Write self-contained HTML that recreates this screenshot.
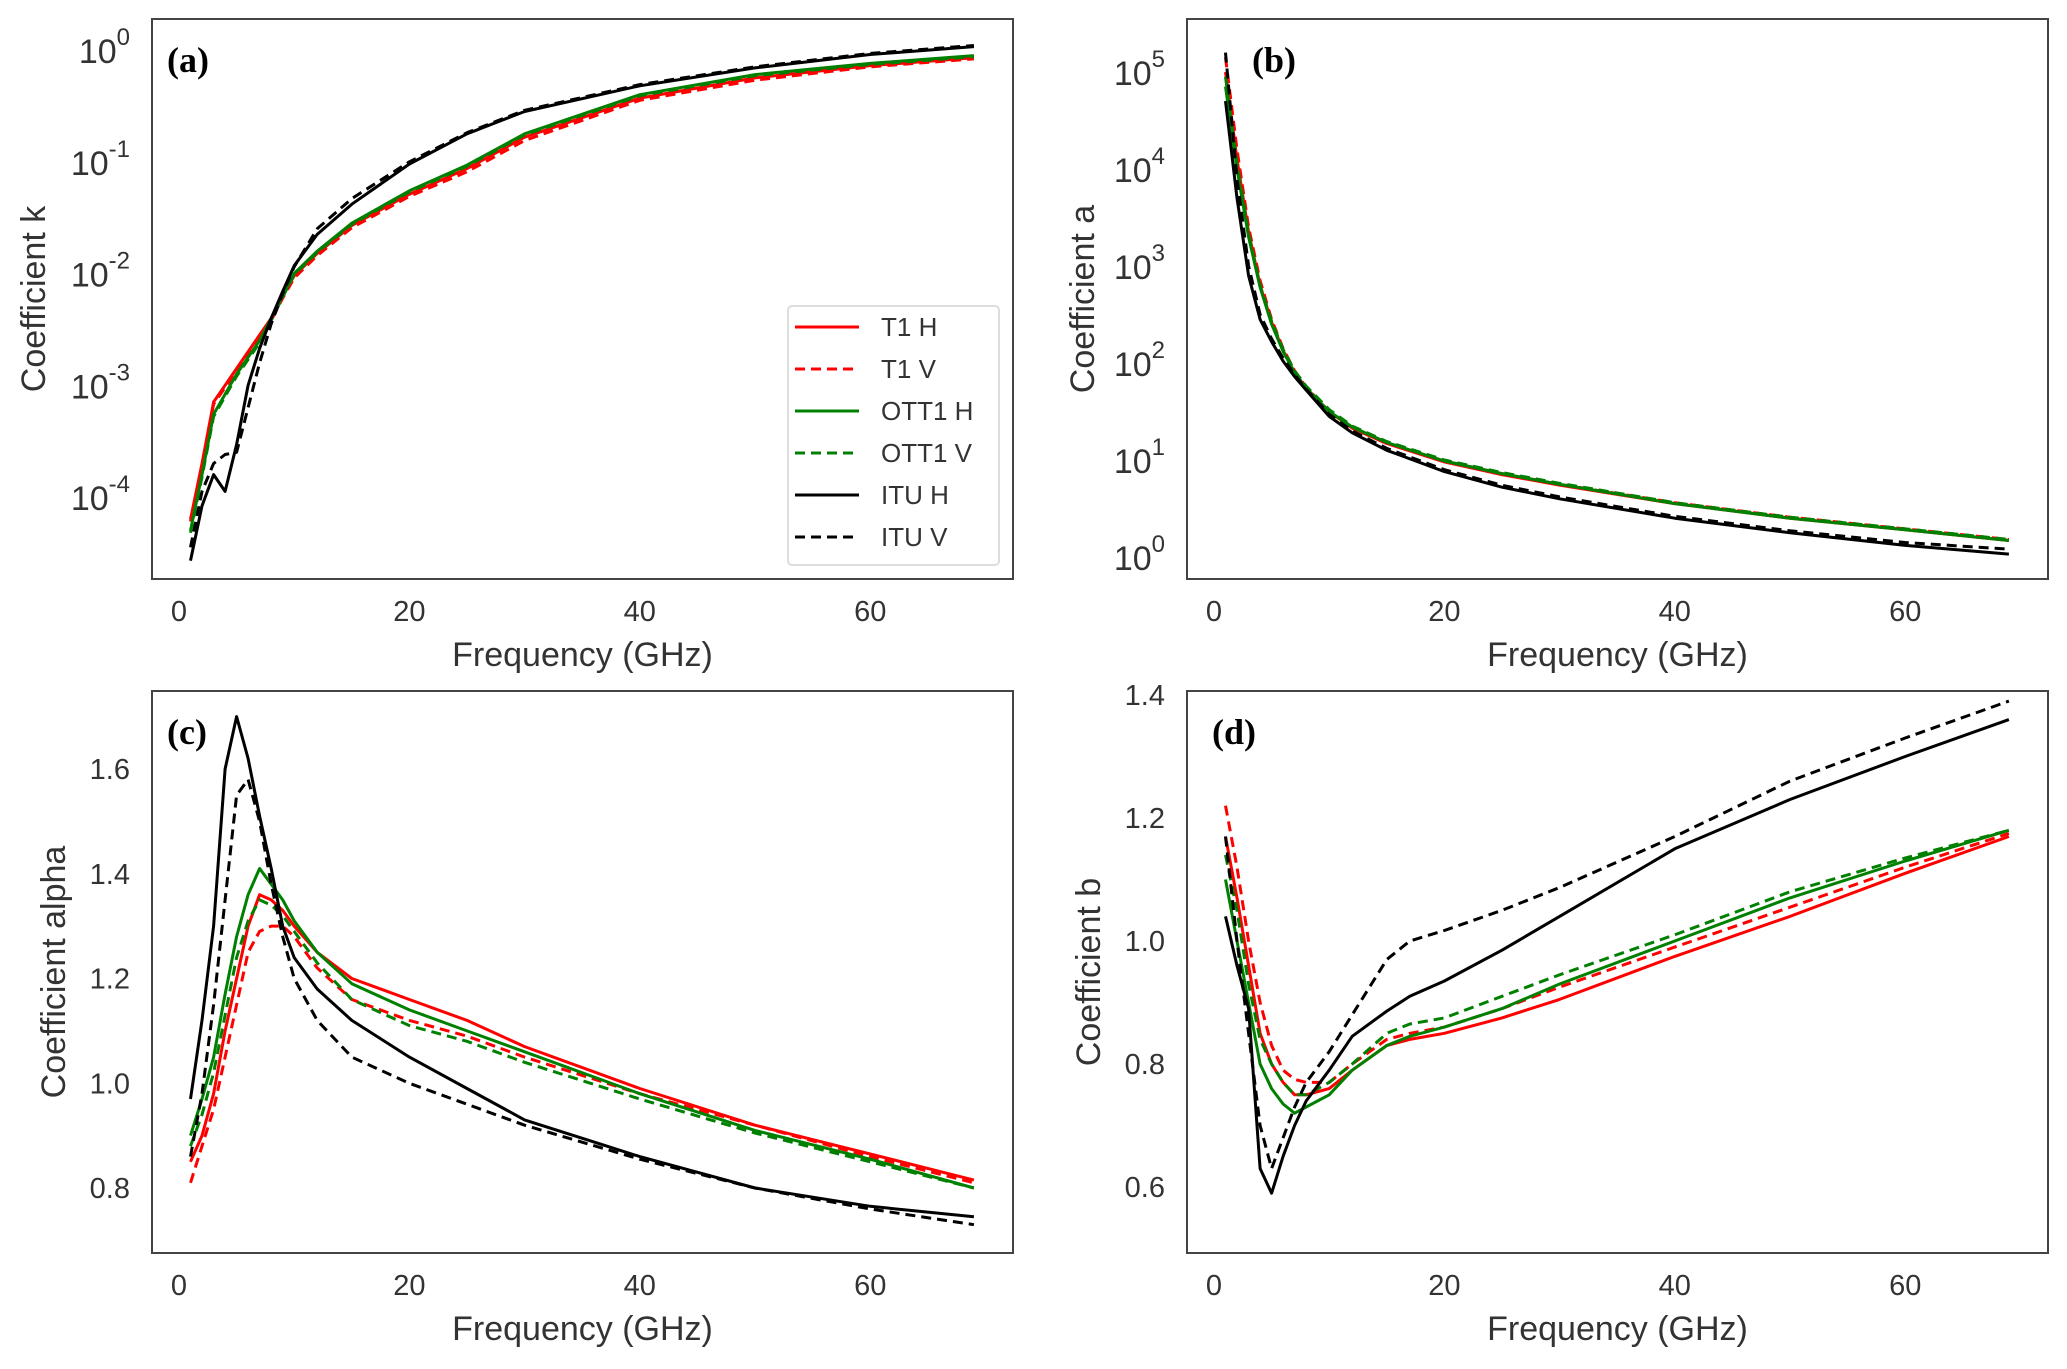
<!DOCTYPE html>
<html><head><meta charset="utf-8"><style>
body{margin:0;background:#fff;}
svg text{font-family:"Liberation Sans",sans-serif;fill:#333;}
</style></head><body>
<svg id="c" width="2067" height="1364" xmlns="http://www.w3.org/2000/svg"></svg>
<script>
// ---- Panel (a): coefficient k (log10 values) ----
const freqA = [1,2,3,4,5,6,7,8,9,10,12,15,20,25,30,40,50,60,69];
const kT1H   = [-4.2,-3.7,-3.15,-3.0,-2.85,-2.7,-2.55,-2.4,-2.2,-2.02,-1.82,-1.57,-1.29,-1.06,-0.78,-0.43,-0.25,-0.14,-0.07];
const kT1V   = [-4.22,-3.72,-3.17,-3.02,-2.87,-2.72,-2.57,-2.42,-2.22,-2.04,-1.84,-1.59,-1.31,-1.09,-0.81,-0.45,-0.27,-0.15,-0.08];
const kOTT1H = [-4.3,-3.8,-3.26,-3.08,-2.9,-2.75,-2.6,-2.4,-2.2,-2.0,-1.8,-1.55,-1.26,-1.03,-0.75,-0.40,-0.22,-0.12,-0.05];
const kOTT1V = [-4.32,-3.82,-3.28,-3.1,-2.92,-2.77,-2.62,-2.42,-2.21,-2.01,-1.81,-1.56,-1.27,-1.04,-0.76,-0.41,-0.23,-0.13,-0.06];
const kITUH  = [-4.57,-4.08,-3.8,-3.95,-3.53,-3.0,-2.67,-2.4,-2.16,-1.93,-1.65,-1.38,-1.02,-0.75,-0.55,-0.32,-0.16,-0.04,0.03];
const kITUV  = [-4.45,-3.95,-3.7,-3.62,-3.6,-3.2,-2.8,-2.45,-2.18,-1.94,-1.6,-1.33,-1.0,-0.74,-0.54,-0.31,-0.15,-0.03,0.04];
const kTicks = [0,-1,-2,-3,-4];
// ---- Panel (b): coefficient a (log10 values) ----
const freqB = [1,2,3,4,5,6,7,8,10,12,15,20,25,30,40,50,60,69];
const aT1H   = [5.0,4.1,3.35,2.8,2.42,2.13,1.9,1.74,1.5,1.33,1.17,0.98,0.85,0.74,0.55,0.4,0.28,0.17];
const aT1V   = [5.15,4.2,3.4,2.85,2.45,2.15,1.92,1.75,1.5,1.33,1.17,0.99,0.86,0.75,0.56,0.41,0.29,0.18];
const aOTT1H = [4.85,4.0,3.3,2.78,2.4,2.12,1.9,1.74,1.5,1.34,1.18,0.99,0.86,0.75,0.55,0.4,0.28,0.17];
const aOTT1V = [4.95,4.05,3.33,2.8,2.43,2.14,1.92,1.76,1.52,1.35,1.19,1.0,0.87,0.76,0.56,0.41,0.29,0.18];
const aITUH  = [4.7,3.7,2.9,2.45,2.22,2.02,1.86,1.72,1.45,1.28,1.1,0.88,0.72,0.6,0.4,0.25,0.12,0.03];
const aITUV  = [5.2,3.9,3.0,2.5,2.25,2.05,1.88,1.73,1.47,1.3,1.12,0.9,0.74,0.62,0.42,0.27,0.15,0.08];
const aTicks = [5,4,3,2,1,0];
// ---- Panel (c): coefficient alpha ----
const freqC = [1,2,3,4,5,6,7,8,9,10,12,15,20,25,30,40,50,60,69];
const alT1H   = [0.85,0.9,0.98,1.1,1.2,1.3,1.36,1.35,1.33,1.3,1.25,1.2,1.16,1.12,1.07,0.99,0.92,0.865,0.815];
const alT1V   = [0.81,0.88,0.95,1.05,1.15,1.25,1.29,1.3,1.3,1.28,1.22,1.16,1.12,1.09,1.05,0.98,0.92,0.86,0.81];
const alOTT1H = [0.9,0.97,1.05,1.17,1.28,1.36,1.41,1.38,1.35,1.31,1.25,1.19,1.14,1.1,1.06,0.98,0.91,0.855,0.8];
const alOTT1V = [0.88,0.94,1.02,1.13,1.24,1.31,1.35,1.34,1.32,1.29,1.23,1.16,1.11,1.08,1.04,0.97,0.905,0.85,0.8];
const alITUH  = [0.97,1.12,1.3,1.6,1.7,1.62,1.51,1.41,1.3,1.24,1.18,1.12,1.05,0.99,0.93,0.86,0.8,0.765,0.745];
const alITUV  = [0.86,0.98,1.15,1.35,1.55,1.58,1.5,1.38,1.28,1.2,1.12,1.05,1.0,0.96,0.92,0.855,0.8,0.76,0.73];
const alTicks = [0.8,1.0,1.2,1.4,1.6];
// ---- Panel (d): coefficient b ----
const freqD = [1,2,3,4,5,6,7,8,10,12,15,17,20,25,30,40,50,60,69];
const bT1H   = [1.17,1.07,0.96,0.85,0.8,0.77,0.75,0.75,0.76,0.79,0.83,0.84,0.85,0.875,0.905,0.975,1.04,1.11,1.17];
const bT1V   = [1.22,1.12,1.0,0.9,0.83,0.79,0.775,0.77,0.77,0.8,0.84,0.85,0.86,0.89,0.925,0.99,1.055,1.12,1.175];
const bOTT1H = [1.1,1.0,0.9,0.8,0.76,0.735,0.72,0.73,0.75,0.79,0.83,0.845,0.86,0.89,0.93,1.0,1.07,1.13,1.18];
const bOTT1V = [1.14,1.05,0.93,0.84,0.8,0.77,0.75,0.75,0.77,0.8,0.85,0.865,0.875,0.91,0.945,1.01,1.08,1.135,1.18];
const bITUH  = [1.04,0.96,0.89,0.63,0.59,0.65,0.7,0.74,0.79,0.845,0.886,0.91,0.935,0.985,1.04,1.15,1.23,1.3,1.36];
const bITUV  = [1.17,1.0,0.85,0.7,0.63,0.68,0.73,0.77,0.82,0.88,0.97,1.0,1.017,1.05,1.087,1.17,1.26,1.33,1.39];
const bTicks = [0.6,0.8,1.0,1.2,1.4];
const xTicks = [0,20,40,60];
const legendLabels = ["T1 H","T1 V","OTT1 H","OTT1 V","ITU H","ITU V"];

const NS="http://www.w3.org/2000/svg";
const svg=document.getElementById('c');
function mk(tag,attrs,parent){const e=document.createElementNS(NS,tag);for(const k in attrs)e.setAttribute(k,attrs[k]);(parent||svg).appendChild(e);return e;}
const styles=[{c:"#ff0000",d:""},{c:"#ff0000",d:"10,6"},{c:"#008000",d:""},{c:"#008000",d:"10,6"},{c:"#000000",d:""},{c:"#000000",d:"10,6"}];
const names=["t1-h","t1-v","ott1-h","ott1-v","itu-h","itu-v"];

function panel(id,L,R,T,B,yv0,yp0,yv1,yp1,freq,series,ticks,isLog,ylabel,plabel,ylOff,plX){
  const g=mk('g',{});
  
  
  const xs=f=>L+27+f*11.52;
  const ys=v=>yp0+(v-yv0)*(yp1-yp0)/(yv1-yv0);
  const cp=mk('clipPath',{id:'cp'+id},g);mk('rect',{x:L,y:T,width:R-L,height:B-T},cp);
  series.forEach((s,i)=>{
    const p=mk('polyline',{points:freq.map((f,j)=>xs(f).toFixed(1)+','+ys(s[j]).toFixed(1)).join(' '),fill:'none',stroke:styles[i].c,'stroke-width':3,'stroke-dasharray':styles[i].d,'clip-path':'url(#cp'+id+')','stroke-linejoin':'round'},g);
    
    
  });
  const fr=mk('rect',{x:L,y:T,width:R-L,height:B-T,fill:'none',stroke:'#444','stroke-width':2},g);
  
  
  xTicks.forEach(t=>{const e=mk('text',{x:xs(t),y:B+42,'font-size':29,'text-anchor':'middle'},g);e.textContent=t;
    
    });
  ticks.forEach(t=>{
    const e=mk('text',{x:L-22,y:ys(t)+(isLog?13:10),'font-size':isLog?34:29,'text-anchor':'end'},g);
    
    
    if(isLog){const a=mk('tspan',{},e);a.textContent='10';const b=mk('tspan',{dy:-18,'font-size':24},e);b.textContent=t;}
    else e.textContent=t.toFixed(1);
  });
  const xl=mk('text',{x:(L+R)/2,y:B+87,'font-size':34,'text-anchor':'middle'},g);xl.textContent='Frequency (GHz)';
  
  
  const yx=L-ylOff, yc=(T+B)/2;
  const yl=mk('text',{x:yx,y:yc,'font-size':34,'text-anchor':'middle',transform:`rotate(-90 ${yx} ${yc})`},g);yl.textContent=ylabel;
  
  
  const pl=mk('text',{x:L+plX,y:T+53,'font-size':36,'font-weight':'bold',style:'font-family:"Liberation Serif",serif;fill:#000'},g);pl.textContent=plabel;
  
  
  return g;
}
panel('a',152,1013,19,579,0,50,-4,497,freqA,[kT1H,kT1V,kOTT1H,kOTT1V,kITUH,kITUV],kTicks,true,'Coefficient k','(a)',107,15);
panel('b',1187,2048,19,579,5,72,0,557,freqB,[aT1H,aT1V,aOTT1H,aOTT1V,aITUH,aITUV],aTicks,true,'Coefficient a','(b)',93,65);
panel('c',152,1013,691,1253,1.6,769,0.8,1188,freqC,[alT1H,alT1V,alOTT1H,alOTT1V,alITUH,alITUV],alTicks,false,'Coefficient alpha','(c)',87,15);
panel('d',1187,2048,691,1253,1.4,695,0.6,1187,freqD,[bT1H,bT1V,bOTT1H,bOTT1V,bITUH,bITUV],bTicks,false,'Coefficient b','(d)',87,25);

// legend
const lg=mk('g',{});


mk('rect',{x:788,y:306,width:211,height:259,rx:4,fill:'#fff',stroke:'#ddd','stroke-width':2},lg);
legendLabels.forEach((lab,i)=>{
  const y=327+i*42;
  const ln=mk('line',{x1:795,x2:859,y1:y,y2:y,stroke:styles[i].c,'stroke-width':3,'stroke-dasharray':styles[i].d},lg);
  
  
  const t=mk('text',{x:881,y:y+9,'font-size':26},lg);t.textContent=lab;
  
  
});
</script>
</body></html>
